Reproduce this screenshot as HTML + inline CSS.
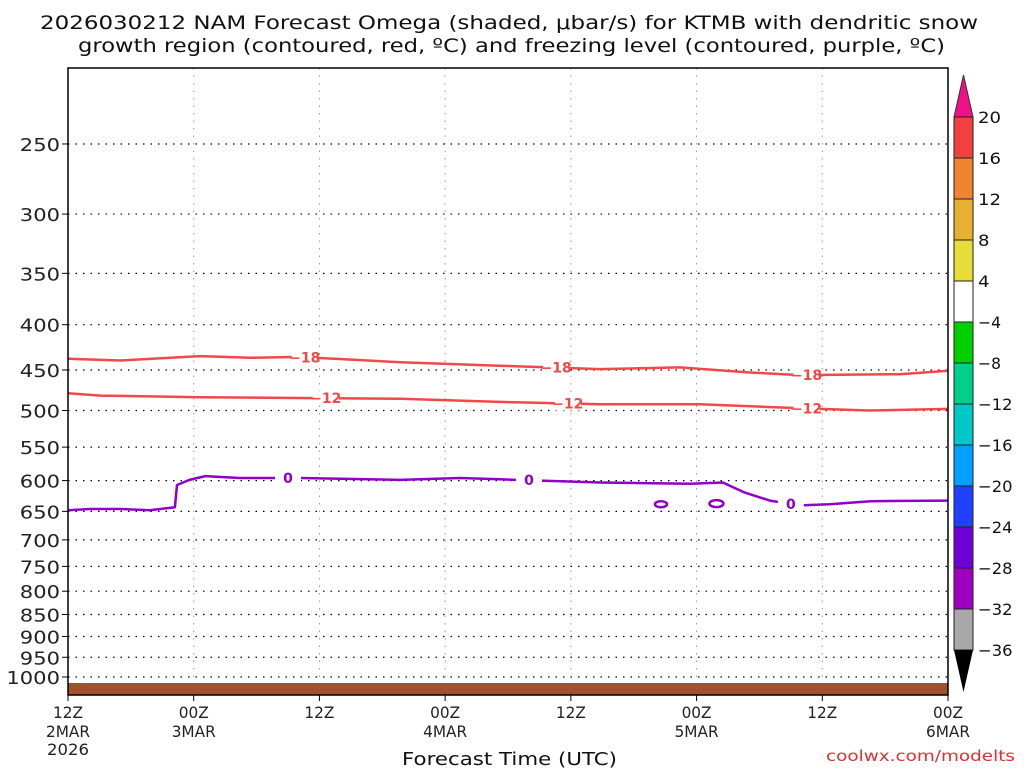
<!DOCTYPE html>
<html><head><meta charset="utf-8"><style>
body{margin:0;background:#fff;}
svg{display:block;font-family:"DejaVu Sans","Liberation Sans",sans-serif;}
</style></head><body>
<svg id="c" width="1024" height="768" viewBox="0 0 1024 768">
<text x="40" y="29" font-size="19" textLength="938" lengthAdjust="spacingAndGlyphs" fill="#111">2026030212 NAM Forecast Omega (shaded, μbar/s) for KTMB with dendritic snow</text>
<text x="78" y="52" font-size="19" textLength="867" lengthAdjust="spacingAndGlyphs" fill="#111">growth region (contoured, red, ºC) and freezing level (contoured, purple, ºC)</text>
<g id="grid"></g><g id="series"></g><g id="axes"></g><g id="cbar"></g>
<text x="402" y="765" font-size="18" textLength="215" lengthAdjust="spacingAndGlyphs" fill="#111">Forecast Time (UTC)</text>
<text x="826" y="761" font-size="15" textLength="189" lengthAdjust="spacingAndGlyphs" fill="#e03030">coolwx.com/modelts</text>
</svg>
<script>
const xTickHours=[0,12,24,36,48,60,72,84];
const xTickL1=["12Z","00Z","12Z","00Z","12Z","00Z","12Z","00Z"];
const xTickL2=["2MAR","3MAR","","4MAR","","5MAR","","6MAR"];
const yTicks=[250,300,350,400,450,500,550,600,650,700,750,800,850,900,950,1000];
const m18Hours=[0,5,12.6,17.4,22,31.7,41.2,50.8,58.4,65.1,69.9,79.4,84];
const m18Press=[437,439,434,436,435,441,445,449,447,453,456,455,451];
const m12Hours=[0,3.1,12.6,22,31.7,41.2,50.8,60.3,69.9,76.5,84];
const m12Press=[478,481,483,484,485,489,492,492,497,500,498];
const frzHours=[0,2.1,5,7.8,10.2,10.4,11.6,13.1,16.4,22.1,31.7,37.4,41.2,50.8,59.4,62.5,64.6,67,69.9,72.7,76.6,84];
const frzPress=[648,646,646,648,643,607,599,593,596,596,599,596,598,603,605,603,619,632,640,638,633,632];
const cbLabels=["20","16","12","8","4","\u22124","\u22128","\u221212","\u221216","\u221220","\u221224","\u221228","\u221232","\u221236"];
const cbColors=["#f24040","#f08430","#e8b030","#e8dc38","#ffffff","#00d000","#00d08a","#00c8c8","#00a0ff","#2040ff","#7000d8","#a000c0","#a8a8a8"];
const NS="http://www.w3.org/2000/svg";
const L=68,R=948,T=68,B=695;
const X=h=>L+(h/84)*(R-L);
const Y=p=>677-(Math.log(1000)-Math.log(p))*384.5;
function mk(tag,at,parent){const e=document.createElementNS(NS,tag);for(const k in at)e.setAttribute(k,at[k]);document.getElementById(parent).appendChild(e);return e;}
yTicks.forEach(p=>{const l=mk('line',{x1:L,x2:R,y1:Y(p),y2:Y(p),stroke:'#000','stroke-width':1.2,'stroke-dasharray':'1.5 6'},'grid');

});
xTickHours.forEach(h=>{const l=mk('line',{x1:X(h),x2:X(h),y1:T,y2:B,stroke:'#999','stroke-width':1,'stroke-dasharray':'1.5 6'},'grid');

});
const g=mk('rect',{x:L,y:683,width:R-L,height:12,fill:'#a0522d'},'grid');


function line(hs,ps,col,name){const d=hs.map((h,i)=>(i?'L':'M')+X(h).toFixed(1)+','+Y(ps[i]).toFixed(1)).join('');
const e=mk('path',{d:d,fill:'none',stroke:col,'stroke-width':2.5,'stroke-linejoin':'round'},'series');

}
line(m18Hours,m18Press,'#f24848','contour-minus18');
line(m12Hours,m12Press,'#f24848','contour-minus12');
line(frzHours,frzPress,'#9000c8','freezing-level-contour');
const e1=mk('ellipse',{cx:X(56.6),cy:Y(638),rx:6,ry:3,fill:'none',stroke:'#9000c8','stroke-width':2.5},'series');


const e2=mk('ellipse',{cx:X(61.9),cy:Y(637),rx:7,ry:3.5,fill:'none',stroke:'#9000c8','stroke-width':2.5},'series');


function lab(h,hs,ps,txt,col){let i=0;while(i<hs.length-2&&hs[i+1]<h)i++;const f=(h-hs[i])/(hs[i+1]-hs[i]);const p=ps[i]+(ps[i+1]-ps[i])*f;
const x=X(h),y=Y(p);mk('rect',{x:x-13,y:y-7,width:26,height:14,fill:'#fff'},'series');
const t=mk('text',{x:x,y:y+5,'font-size':14,'font-weight':'bold',fill:col,'text-anchor':'middle'},'series');t.textContent=txt;

}
[22.6,46.6,70.5].forEach(h=>lab(h,m18Hours,m18Press,'\u221218','#f24848'));
[24.6,47.7,70.5].forEach(h=>lab(h,m12Hours,m12Press,'\u221212','#f24848'));
[21,44,69].forEach(h=>lab(h,frzHours,frzPress,'0','#9000c8'));
const fr=mk('rect',{x:L,y:T,width:R-L,height:B-T,fill:'none',stroke:'#000','stroke-width':1.5},'axes');


yTicks.forEach(p=>{mk('line',{x1:L-6,x2:L,y1:Y(p),y2:Y(p),stroke:'#000'},'axes');
const s=String(p);
const t=mk('text',{x:L-8,y:Y(p)+7,'font-size':18,'text-anchor':'end',fill:'#222',textLength:s.length*13.4,lengthAdjust:'spacingAndGlyphs'},'axes');t.textContent=s;

});
xTickHours.forEach((h,i)=>{mk('line',{x1:X(h),x2:X(h),y1:B,y2:B+6,stroke:'#000'},'axes');
const t=mk('text',{x:X(h),y:718,'font-size':16,'text-anchor':'middle',fill:'#222',textLength:xTickL1[i].length*10,lengthAdjust:'spacingAndGlyphs'},'axes');t.textContent=xTickL1[i];


if(xTickL2[i]){const t2=mk('text',{x:X(h),y:737,'font-size':16,'text-anchor':'middle',fill:'#222',textLength:xTickL2[i].length*11,lengthAdjust:'spacingAndGlyphs'},'axes');t2.textContent=xTickL2[i];

}});
const yr=mk('text',{x:L,y:755,'font-size':16,'text-anchor':'middle',fill:'#222',textLength:42,lengthAdjust:'spacingAndGlyphs'},'axes');yr.textContent='2026';


const cx=954,cw=19,c0=117,ch=41;
const tt=mk('polygon',{points:`${cx},${c0} ${cx+cw},${c0} ${cx+cw/2},75`,fill:'#f0108a',stroke:'#333'},'cbar');


cbColors.forEach((c,i)=>{const r=mk('rect',{x:cx,y:c0+i*ch,width:cw,height:ch,fill:c,stroke:'#222','stroke-width':1},'cbar');

});
const bt=mk('polygon',{points:`${cx},${c0+13*ch} ${cx+cw},${c0+13*ch} ${cx+cw/2},692`,fill:'#000'},'cbar');


cbLabels.forEach((s,i)=>{const t=mk('text',{x:978,y:c0+i*ch+6,'font-size':16,fill:'#111',textLength:s.length*11.5,lengthAdjust:'spacingAndGlyphs'},'cbar');t.textContent=s;

});
</script>
</body></html>
